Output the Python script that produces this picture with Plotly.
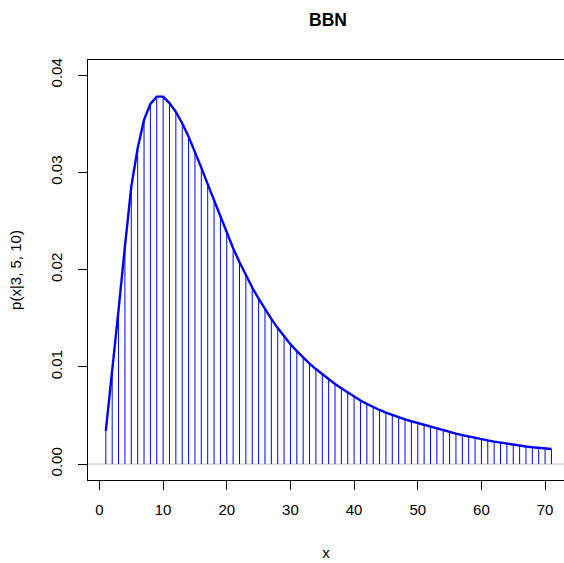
import plotly.graph_objects as go

# Data
x_vals = list(range(1, 72))
pmf = [
    0.00342, 0.00935, 0.01586, 0.02236, 0.02853, 0.03248, 0.03539, 0.03703, 0.03778, 0.03778,
    0.03712, 0.03622, 0.03505, 0.03367, 0.03212, 0.03048, 0.02878, 0.02708, 0.02540, 0.02376,
    0.02220, 0.02075, 0.01940, 0.01815, 0.01700, 0.01592, 0.01492, 0.01398, 0.01311, 0.01233,
    0.01162, 0.01095, 0.01033, 0.00977, 0.00925, 0.00872, 0.00824, 0.00779, 0.00735, 0.00693,
    0.00654, 0.00619, 0.00586, 0.00556, 0.00529, 0.00504, 0.00481, 0.00460, 0.00440, 0.00421,
    0.00403, 0.00384, 0.00365, 0.00347, 0.00330, 0.00313, 0.00298, 0.00283, 0.00269, 0.00256,
    0.00243, 0.00231, 0.00220, 0.00209, 0.00199, 0.00190, 0.00181, 0.00173, 0.00166, 0.00160,
    0.00155,
]
x_ticks = [0, 10, 20, 30, 40, 50, 60, 70]
y_ticks = [0.00, 0.01, 0.02, 0.03, 0.04]

FONT = "Liberation Sans, Arial, sans-serif"

# vertical spikes (type="h")
sx, sy = [], []
for xv, yv in zip(x_vals, pmf):
    sx += [xv, xv, None]
    sy += [0, yv, None]

fig = go.Figure()
fig.add_trace(go.Scatter(x=sx, y=sy, mode="lines",
                         line=dict(color="#0000FF", width=1), hoverinfo="skip"))
fig.add_trace(go.Scatter(x=x_vals, y=pmf, mode="lines",
                         line=dict(color="#0000FF", width=2.4)))

fig.add_hline(y=0, line=dict(color="#BEBEBE", width=1), layer="below")

fig.update_layout(
    width=564, height=563,
    margin=dict(l=88, r=0, t=60, b=83),
    paper_bgcolor="white", plot_bgcolor="white",
    showlegend=False,
    font=dict(family=FONT, size=15, color="black"),
    title=dict(text="<b>BBN</b>", font=dict(family=FONT, size=17.5, color="black"),
               x=328 / 564, xref="container", xanchor="center",
               y=1 - 20 / 563, yref="container", yanchor="middle"),
    xaxis=dict(range=[-1.8, -1.8 + 476 / 6.366], tickvals=x_ticks,
               showgrid=False, zeroline=False,
               showline=True, linecolor="black", linewidth=1, mirror=True,
               ticks="outside", ticklen=9, tickwidth=1, tickcolor="black",
               tickfont=dict(size=15), ticklabelstandoff=7,
               title=dict(text="x", font=dict(size=15), standoff=30)),
    yaxis=dict(range=[-0.00164, 0.04155], tickvals=y_ticks, tickformat=".2f",
               showgrid=False, zeroline=False,
               showline=True, linecolor="black", linewidth=1,
               ticks="outside", ticklen=9, tickwidth=1, tickcolor="black",
               tickangle=-90, tickfont=dict(size=15), ticklabelstandoff=10,
               title=dict(text="p(x|3, 5, 10)", font=dict(size=15), standoff=22)),
)

fig.write_html("out.html")
